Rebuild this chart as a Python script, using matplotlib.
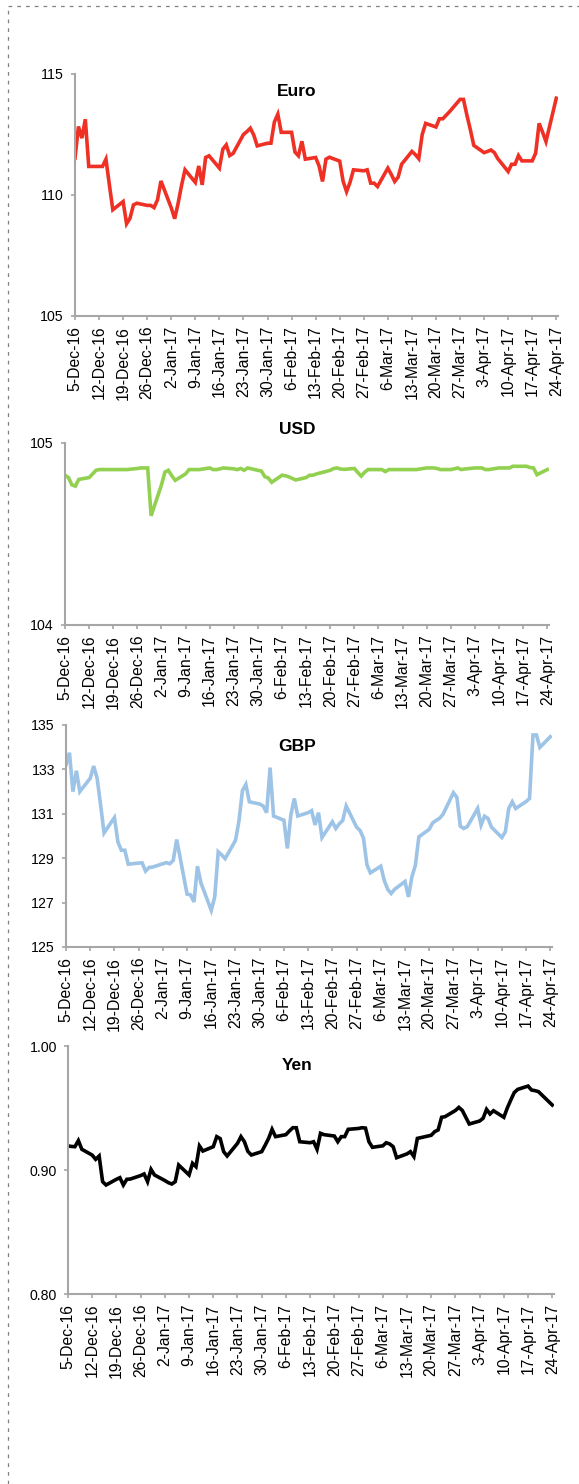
import numpy as np
import pandas as pd
import matplotlib
matplotlib.use("Agg")
import matplotlib.pyplot as plt
import matplotlib.dates as mdates
from matplotlib.lines import Line2D
from matplotlib.ticker import FuncFormatter, FormatStrFormatter

plt.rcParams['font.family'] = ['Liberation Sans', 'DejaVu Sans']

# business days 5-Dec-16 .. 24-Apr-17
dates = pd.bdate_range('2016-12-05', '2017-04-24')
week_ticks = pd.date_range('2016-12-05', '2017-04-24', freq='7D')

euro = [111.52, 112.83, 112.35, 113.13, 111.18,
        111.18, 111.18, 111.48, 110.42, 109.39,
        109.73, 108.81, 109.04, 109.59, 109.66,
        109.57, 109.57, 109.48, 109.80, 110.58,
        109.47, 109.02, 109.66, 110.40, 111.04,
        110.52, 111.20, 110.42, 111.55, 111.62,
        111.11, 111.89, 112.07, 111.63, 111.72,
        112.50, 112.62, 112.76, 112.48, 112.03,
        112.14, 112.14, 113.02, 113.34, 112.59,
        112.59, 111.77, 111.62, 112.22, 111.48,
        111.55, 111.20, 110.56, 111.48, 111.56,
        111.40, 110.56, 110.14, 110.52, 111.04,
        111.00, 111.04, 110.49, 110.49, 110.35,
        111.11, 110.85, 110.56, 110.74, 111.27,
        111.80, 111.67, 111.50, 112.50, 112.96,
        112.81, 113.15, 113.15, 113.30, 113.45,
        113.95, 113.95, 113.30, 112.70, 112.05,
        111.75, 111.80, 111.86, 111.75, 111.50,
        110.97, 111.27, 111.27, 111.63, 111.41,
        111.41, 111.73, 112.96, 112.60, 112.21,
        114.00]

usd = [104.823, 104.810, 104.770, 104.763, 104.800,
       104.810, 104.830, 104.850, 104.854, 104.854,
       104.854, 104.854, 104.854, 104.854, 104.854,
       104.860, 104.863, 104.863, 104.863, 104.600,
       104.770, 104.840, 104.850, 104.820, 104.795,
       104.830, 104.854, 104.854, 104.854, 104.854,
       104.863, 104.854, 104.854, 104.858, 104.863,
       104.858, 104.854, 104.860, 104.850, 104.863,
       104.850, 104.846, 104.815, 104.808, 104.784,
       104.823, 104.820, 104.814, 104.805, 104.797,
       104.810, 104.823, 104.823, 104.830, 104.835,
       104.850, 104.860, 104.863, 104.857, 104.855,
       104.860, 104.838, 104.818, 104.840, 104.854,
       104.854, 104.854, 104.843, 104.854, 104.854,
       104.854, 104.854, 104.854, 104.854, 104.854,
       104.863, 104.863, 104.863, 104.860, 104.854,
       104.854, 104.858, 104.863, 104.854, 104.857,
       104.863, 104.863, 104.863, 104.854, 104.854,
       104.863, 104.863, 104.863, 104.863, 104.872,
       104.872, 104.872, 104.865, 104.863, 104.826,
       104.854]

gbp = [133.20, 133.75, 132.00, 132.94, 132.00,
       132.60, 133.15, 132.60, 131.40, 130.14,
       130.83, 129.74, 129.36, 129.36, 128.73,
       128.78, 128.79, 128.42, 128.58, 128.60,
       128.75, 128.80, 128.75, 128.90, 129.84,
       127.38, 127.35, 127.03, 128.64, 127.89,
       126.65, 127.26, 129.29, 129.15, 128.98,
       129.80, 130.67, 132.04, 132.32, 131.54,
       131.44, 131.35, 131.05, 133.08, 130.90,
       130.71, 129.44, 130.94, 131.69, 130.90,
       131.05, 131.14, 130.50, 131.05, 129.93,
       130.64, 130.34, 130.55, 130.70, 131.35,
       130.40, 130.25, 129.90, 128.70, 128.34,
       128.64, 128.00, 127.60, 127.41, 127.60,
       127.95, 127.26, 128.16, 128.68, 129.96,
       130.30, 130.59, 130.70, 130.80, 130.98,
       131.95, 131.74, 130.44, 130.34, 130.42,
       131.24, 130.49, 130.89, 130.79, 130.40,
       129.93, 130.19, 131.24, 131.54, 131.24,
       131.55, 131.69, 134.55, 134.55, 133.99,
       134.47]

yen = [0.9194, 0.9190, 0.9188, 0.9237, 0.9167,
       0.9120, 0.9086, 0.9113, 0.8906, 0.8879,
       0.8925, 0.8938, 0.8879, 0.8925, 0.8927,
       0.8955, 0.8968, 0.8906, 0.9005, 0.8960,
       0.8915, 0.8898, 0.8887, 0.8906, 0.9040,
       0.8960, 0.9054, 0.9027, 0.9194, 0.9153,
       0.9188, 0.9269, 0.9253, 0.9148, 0.9113,
       0.9215, 0.9269, 0.9228, 0.9150, 0.9121,
       0.9148, 0.9200, 0.9255, 0.9328, 0.9269,
       0.9285, 0.9315, 0.9341, 0.9341, 0.9228,
       0.9220, 0.9228, 0.9167, 0.9296, 0.9285,
       0.9274, 0.9228, 0.9269, 0.9269, 0.9328,
       0.9335, 0.9341, 0.9338, 0.9228, 0.9183,
       0.9195, 0.9220, 0.9210, 0.9188, 0.9099,
       0.9130, 0.9148, 0.9108, 0.9255, 0.9261,
       0.9280, 0.9309, 0.9323, 0.9425, 0.9430,
       0.9480, 0.9505, 0.9480, 0.9425, 0.9371,
       0.9395, 0.9417, 0.9489, 0.9452, 0.9478,
       0.9425, 0.9500, 0.9564, 0.9624, 0.9650,
       0.9677, 0.9645, 0.9640, 0.9632, 0.9605,
       0.9524]

W, H = 579, 1484
fig = plt.figure(figsize=(W / 100, H / 100), dpi=100)

# (name, data, colour, ylim, yticks, fmt, box px: left, top, right, bottom, title y px)
panels = [
    ("Euro", euro, "#ee3124", (105, 115), [105, 110, 115], "%d", (75, 74, 558, 316), 91),
    ("USD", usd, "#92d050", (104, 105), [104, 105], "%d", (65, 443, 549, 625), 430),
    ("GBP", gbp, "#9dc3e6", (125, 135), [125, 127, 129, 131, 133, 135], "%d", (66, 725, 552, 947), 746),
    ("Yen", yen, "#000000", (0.8, 1.0), [0.8, 0.9, 1.0], "%.2f", (68, 1046, 554, 1294), 1065),
]

grey = "#a6a6a6"
datefmt = FuncFormatter(lambda v, p: "%d-%s" % (mdates.num2date(v).day, mdates.num2date(v).strftime("%b-%y")))

for name, vals, col, ylim, yt, fmt, (l, t, r, b), ty in panels:
    ax = fig.add_axes([l / W, 1 - b / H, (r - l) / W, (b - t) / H])
    ax.plot(dates, vals, color=col, lw=2.6, solid_joinstyle="miter")
    ax.set_xlim(dates[0], dates[-1] + pd.Timedelta(hours=12))
    ax.set_ylim(*ylim)
    ax.set_yticks(yt)
    ax.yaxis.set_major_formatter(FormatStrFormatter(fmt))
    ax.set_xticks(week_ticks)
    ax.xaxis.set_major_formatter(datefmt)
    for s in ["top", "right"]:
        ax.spines[s].set_visible(False)
    for s in ["left", "bottom"]:
        ax.spines[s].set_color(grey)
        ax.spines[s].set_linewidth(1.5)
    ax.tick_params(axis="x", rotation=90, labelsize=11.3, length=3, width=1.2, color=grey, pad=4)
    ax.tick_params(axis="y", labelsize=10.2, length=3, width=1.2, color=grey, pad=5)
    fig.text(297 / W, 1 - ty / H, name, ha="center", va="center", fontsize=12.5, fontweight="bold")

# dotted frame on top and left
fig.add_artist(Line2D([8 / W, 1], [1 - 6 / H, 1 - 6 / H], transform=fig.transFigure,
                      color="#808080", lw=0.9, linestyle=(0, (3, 4))))
fig.add_artist(Line2D([8 / W, 8 / W], [0, 1 - 6 / H], transform=fig.transFigure,
                      color="#808080", lw=0.9, linestyle=(0, (3, 4))))

fig.savefig("out.png", dpi=100)
